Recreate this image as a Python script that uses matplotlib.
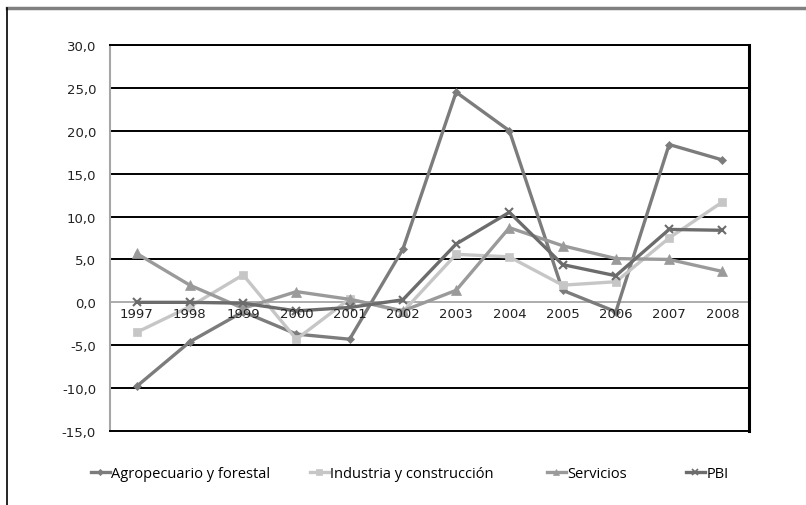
import numpy as np
import matplotlib.pyplot as plt
from matplotlib.lines import Line2D

years = ["1997", "1998", "1999", "2000", "2001", "2002",
         "2003", "2004", "2005", "2006", "2007", "2008"]

agro = [-9.8, -4.6, -1.1, -3.7, -4.3, 6.2, 24.5, 20.0, 1.4, -1.1, 18.4, 16.6]
industria = [-3.5, -0.5, 3.2, -4.3, 0.4, -1.1, 5.6, 5.3, 2.0, 2.4, 7.5, 11.7]
servicios = [5.7, 2.0, -0.7, 1.25, 0.35, -1.0, 1.4, 8.7, 6.6, 5.1, 5.0, 3.6]
pbi = [0.0, 0.0, -0.1, -1.0, -0.6, 0.3, 6.8, 10.5, 4.4, 3.1, 8.5, 8.4]

series = [
    ("Agropecuario y forestal", agro, "#7c7c7c", "D", 4.5),
    ("Industria y construcción", industria, "#c6c6c6", "s", 6),
    ("Servicios", servicios, "#9a9a9a", "^", 6.5),
    ("PBI", pbi, "#6c6c6c", "x", 6),
]
legend_x = [91, 310, 547, 686]  # left edge of each legend entry, px

yticks = np.arange(-15, 31, 5)

fig = plt.figure(figsize=(8.06, 5.06), dpi=100)
ax = fig.add_axes([110 / 806, 1 - 432 / 506, 639 / 806, 386 / 506])

x = np.arange(len(years))
for name, vals, col, mk, ms in series:
    ax.plot(x, vals, color=col, lw=2.4, marker=mk, ms=ms,
            mew=1.5 if mk == "x" else 0.5, mec=col, mfc=col, label=name,
            zorder=3)

ax.set_xlim(-0.5, len(years) - 0.5)
ax.set_ylim(-15, 30)
for v in yticks:
    if v == 0:
        ax.axhline(v, color="#a6a6a6", lw=1.3, zorder=2)
    elif v > -15:
        ax.axhline(v, color="black", lw=1.4, zorder=1)

ax.set_yticks(yticks)
ax.set_yticklabels([f"{v:.1f}".replace(".", ",") for v in yticks],
                   fontsize=9.5, color="#222222")
ax.tick_params(axis="y", length=0, pad=10)
ax.set_xticks([])

# year labels hang just under the zero line
for i, yr in enumerate(years):
    ax.text(i, -0.5, yr, ha="center", va="top", fontsize=9.5, color="#222222",
            zorder=4)

ax.spines["left"].set_color("#a6a6a6")
ax.spines["left"].set_linewidth(1.5)
for s in ("top", "bottom"):
    ax.spines[s].set_color("black")
    ax.spines[s].set_linewidth(1.4)
ax.spines["right"].set_color("black")
ax.spines["right"].set_linewidth(2.2)

# one legend per entry so the spacing can follow the layout
for (name, _, col, mk, ms), lx in zip(series, legend_x):
    h = Line2D([], [], color=col, lw=2.4, marker=mk, ms=ms * 0.7,
               mew=1.2 if mk == "x" else 0.5, mec=col, mfc=col)
    fig.legend([h], [name], loc="center left",
               bbox_to_anchor=(lx / 806, 1 - 475 / 506), frameon=False,
               prop={"family": "Open Sans", "size": 10.5},
               handlelength=1.3, handletextpad=0.1, borderpad=0,
               borderaxespad=0)

# outer frame
fig.add_artist(Line2D([7 / 806, 1], [1 - 9 / 506] * 2, color="#808080", lw=2.5))
fig.add_artist(Line2D([7 / 806] * 2, [0, 1 - 9 / 506], color="black", lw=1.2))

fig.savefig("out.png", dpi=100)
